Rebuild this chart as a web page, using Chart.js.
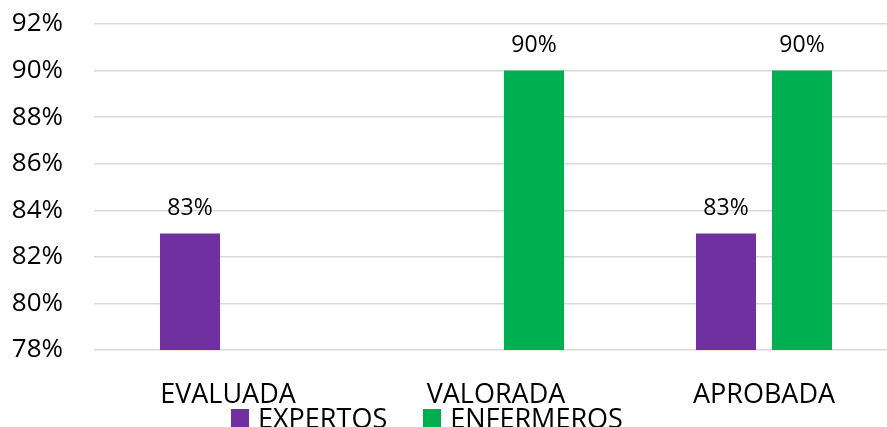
<!DOCTYPE html>
<html>
<head>
<meta charset="utf-8">
<script src="https://cdn.jsdelivr.net/npm/chart.js@4/dist/chart.umd.min.js"></script>
<style>
  html, body { margin: 0; padding: 0; background: #fff; overflow: hidden; }
  #wrap { position: relative; width: 887px; height: 427px; overflow: hidden; }
  #c { position: absolute; left: 0; top: 0; }
  #legend { position: absolute; left: 231px; top: 399px; display: flex; align-items: center;
    font-family: "Open Sans", sans-serif; font-size: 27px; color: #000; white-space: nowrap; }
  .sw { width: 18px; height: 18px; display: inline-block; margin-right: 9px; }
  .item { display: flex; align-items: center; margin-right: 36px; }
</style>
</head>
<body>
<div id="wrap">
  <canvas id="c" width="900" height="427" style="width:900px;height:427px"></canvas>
  <div id="legend"></div>
</div>
<script>
const categories = ["EVALUADA", "VALORADA", "APROBADA"];
const seriesNames = ["EXPERTOS", "ENFERMEROS"];
const expertos = [83, null, 83];
const enfermeros = [null, 90, 90];
const yTicks = [78, 80, 82, 84, 86, 88, 90, 92];
const colors = ["#7030A0", "#00B050"];

const FONT = '"Open Sans", sans-serif';

const labelPlugin = {
  id: 'valueLabels',
  afterDatasetsDraw(chart) {
    const ctx = chart.ctx;
    ctx.save();
    ctx.font = '23px ' + FONT;
    ctx.fillStyle = '#000';
    ctx.textAlign = 'center';
    ctx.textBaseline = 'alphabetic';
    chart.data.datasets.forEach((ds, i) => {
      const meta = chart.getDatasetMeta(i);
      meta.data.forEach((bar, j) => {
        const v = ds.data[j];
        if (v === null || v === undefined) return;
        ctx.fillText(v + '%', bar.x, bar.y - 19);
      });
    });
    ctx.restore();
  }
};

new Chart(document.getElementById('c'), {
  type: 'bar',
  data: {
    labels: categories,
    datasets: [
      { label: seriesNames[0], data: expertos, backgroundColor: colors[0],
        categoryPercentage: 0.567, barPercentage: 0.79 },
      { label: seriesNames[1], data: enfermeros, backgroundColor: colors[1],
        categoryPercentage: 0.567, barPercentage: 0.79 }
    ]
  },
  options: {
    responsive: false,
    animation: false,
    layout: { padding: { top: 24, right: 2, left: 0, bottom: 0 } },
    plugins: { legend: { display: false }, tooltip: { enabled: false } },
    scales: {
      x: {
        grid: { display: false },
        border: { display: false },
        ticks: { color: '#000', font: { family: FONT, size: 27 }, padding: 21, maxRotation: 0 },
        afterFit(s) { s.height = 77; s.paddingLeft = 0; s.paddingRight = 0; }
      },
      y: {
        min: yTicks[0], max: yTicks[yTicks.length - 1],
        afterBuildTicks(s) { s.ticks = yTicks.map(v => ({ value: v })); },
        grid: { color: '#d9d9d9', lineWidth: 1.5, drawTicks: false },
        border: { display: false },
        ticks: { color: '#000', font: { family: FONT, size: 26 }, padding: 31,
          callback: v => v + '%' },
        afterFit(s) { s.width = 94; s.paddingTop = 0; s.paddingBottom = 0; }
      }
    }
  },
  plugins: [labelPlugin]
});

const lg = document.getElementById('legend');
seriesNames.forEach((n, i) => {
  const it = document.createElement('span');
  it.className = 'item';
  const sw = document.createElement('span');
  sw.className = 'sw';
  sw.style.background = colors[i];
  it.appendChild(sw);
  it.appendChild(document.createTextNode(n));
  lg.appendChild(it);
});
</script>
</body>
</html>
